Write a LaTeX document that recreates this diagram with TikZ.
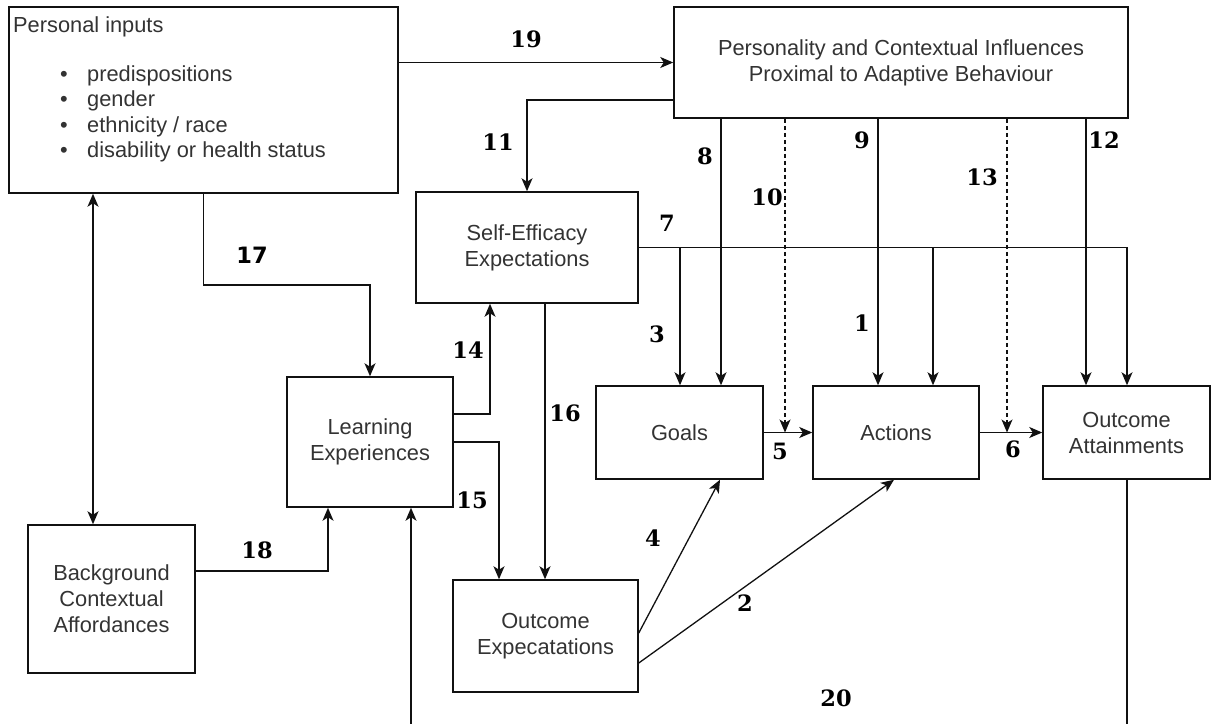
\documentclass[tikz,border=0pt]{standalone}
\usepackage{fontspec}
\setmainfont{Liberation Sans}
\newfontfamily\numserif{DejaVu Serif}
\newfontfamily\numsans{DejaVu Sans}
\usetikzlibrary{arrows.meta}
\definecolor{txt}{HTML}{333333}
\definecolor{ln}{HTML}{111111}
\begin{document}
\begin{tikzpicture}[x=1pt,y=-1pt,
  box/.style={draw=ln,line width=1.5pt,rectangle,inner sep=0pt,align=center,
    text=txt,font=\fontsize{21.8}{26}\selectfont},
  body/.style={text=txt,font=\fontsize{21.8}{26}\selectfont,inner sep=0pt},
  link/.style={draw=ln,line width=1.3pt},
  tip/.style={},
  arr/.style={link,-{Stealth[length=13pt,width=11pt,inset=3.5pt]}},
  darr/.style={link,{Stealth[length=13pt,width=11pt,inset=3.5pt]}-{Stealth[length=13pt,width=11pt,inset=3.5pt]}},
  dasharr/.style={arr,dash pattern=on 4pt off 3pt},
  num/.style={font=\numserif\bfseries\fontsize{22.5}{26}\selectfont,inner sep=0pt},
  numsans/.style={font=\numsans\bfseries\fontsize{22.5}{26}\selectfont,inner sep=0pt}]
\useasboundingbox (0,0) rectangle (1217,723);
\clip (0,0) rectangle (1217,723);

% boxes
\node[box,minimum width=389pt,minimum height=186pt] (pers) at (203.5,100) {};
\node[box,minimum width=454pt,minimum height=111pt] (pinf) at (901,62.5)
  {Personality and Contextual Influences\\Proximal to Adaptive Behaviour};
\node[box,minimum width=222pt,minimum height=111pt] (se) at (527,247.5)
  {Self-Efficacy\\Expectations};
\node[box,minimum width=166pt,minimum height=130pt] (le) at (370,442)
  {Learning\\Experiences};
\node[box,minimum width=167pt,minimum height=148pt] (bg) at (111.5,599)
  {Background\\Contextual\\Affordances};
\node[box,minimum width=185pt,minimum height=112pt] (oe) at (545.5,636)
  {Outcome\\Expecatations};
\node[box,minimum width=167pt,minimum height=93pt] (goals) at (679.5,432.5) {Goals};
\node[box,minimum width=166pt,minimum height=93pt] (act) at (896,432.5) {Actions};
\node[box,minimum width=167pt,minimum height=93pt] (oa) at (1126.5,432.5)
  {Outcome\\Attainments};

% personal inputs list
\node[body,anchor=west] (ptitle) at (13,27) {Personal inputs};
\node[body] (b1) at (64,76) {\textbullet};
\node[body] (b2) at (64,101) {\textbullet};
\node[body] (b3) at (64,127) {\textbullet};
\node[body] (b4) at (64,152) {\textbullet};
\node[body,anchor=west] (i1) at (87,76) {predispositions};
\node[body,anchor=west] (i2) at (87,101) {gender};
\node[body,anchor=west] (i3) at (87,127) {ethnicity / race};
\node[body,anchor=west] (i4) at (87,152) {disability or health status};

% connectors
\draw[arr] (pinf.west -| pers.east) -- (pinf.west);                       % 19
\draw[arr] (pinf.west |- 0,100) -| (se.north);                             % 11
\draw[arr] (pinf.south -| 721,0) -- (goals.north -| 721,0);                % 8
\draw[dasharr] (pinf.south -| 785,0) -- (goals.east -| 785,0);             % 10
\draw[arr] (pinf.south -| 878,0) -- (act.north -| 878,0);                  % 9
\draw[dasharr] (pinf.south -| 1007,0) -- (act.east -| 1007,0);             % 13
\draw[arr] (pinf.south -| 1086,0) -- (oa.north -| 1086,0);                 % 12
\draw[arr] (se.east) -| (oa.north -| 1127,0);                              % 7
\draw[arr] (se.east -| 680,0) -- (goals.north -| 680,0);                   % 3
\draw[arr] (se.east -| 933,0) -- (act.north -| 933,0);                     % 1
\draw[arr] (se.south -| 545,0) -- (oe.north -| 545,0);                     % 16
\draw[arr] (le.east |- 0,414) -| (se.south -| 490,0);                      % 14
\draw[arr] (le.east) -| (oe.north -| 499,0);                               % 15
\draw[arr] (pers.south) -- (pers.south |- 0,285) -| (le.north);            % 17
\draw[darr] (pers.south -| 93,0) -- (bg.north -| 93,0);
\draw[arr] (bg.east |- 0,571) -| (le.south -| 328,0);                      % 18
\draw[arr] (oe.east |- 0,633) -- (goals.south -| 720,0);                   % 4
\draw[arr] (oe.east |- 0,663) -- (act.south -| 894,0);                     % 2
\draw[arr] (goals.east) -- (act.west);                                     % 5
\draw[arr] (act.east) -- (oa.west);                                        % 6
\draw[arr] (oa.south -| 1127,0) -- (1127,745) -| (le.south -| 411,0);      % 20

% path numbers
\node[num] (n1) at (862,323) {1};
\node[num] (n2) at (745,603) {2};
\node[num] (n3) at (657,334) {3};
\node[num] (n4) at (653,538) {4};
\node[num] (n5) at (780,451) {5};
\node[num] (n6) at (1013,449) {6};
\node[num] (n7) at (667,223) {7};
\node[num] (n8) at (705,156) {8};
\node[num] (n9) at (862,140) {9};
\node[num] (n10) at (767,197) {10};
\node[num] (n11) at (498,142) {11};
\node[num] (n12) at (1104,140) {12};
\node[num] (n13) at (982,177) {13};
\node[num] (n14) at (468,350) {14};
\node[num] (n15) at (472,500) {15};
\node[num] (n16) at (565,413) {16};
\node[numsans] (n17) at (252,255) {17};
\node[num] (n18) at (257,550) {18};
\node[num] (n19) at (526,39) {19};
\node[num] (n20) at (836,698) {20};
\end{tikzpicture}
\end{document}
